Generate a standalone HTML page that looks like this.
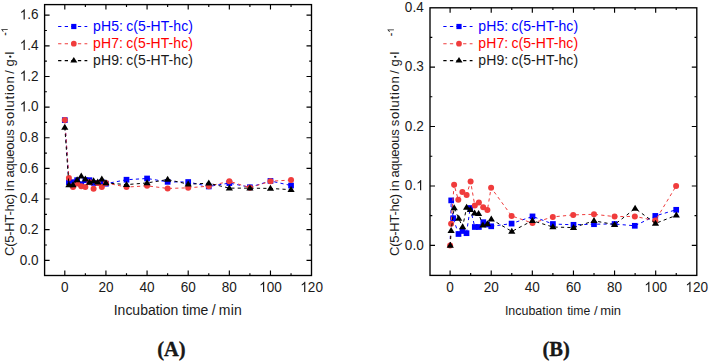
<!DOCTYPE html>
<html><head><meta charset="utf-8"><style>
html,body{margin:0;padding:0;background:#fff;}
body{width:709px;height:363px;overflow:hidden;}
svg{display:block;font-family:"Liberation Sans",sans-serif;fill:#1a1a1a;}

</style></head><body>
<svg width="709" height="363" viewBox="0 0 709 363">
<rect width="709" height="363" fill="#fff"/>
<path d="M64.8 120.12L68.91 182.17L73.03 182.17L77.14 180.18L81.25 184.16L85.37 180.18L89.48 180.18L93.59 182.93L97.71 182.93L101.82 182.17L105.93 183.7L126.5 179.72L147.07 178.49L167.63 181.86L188.2 182.01L208.77 186.46L229.34 183.09L249.9 187.22L270.47 180.94L291.04 185.54" fill="none" stroke="#0000ff" stroke-width="1.0" stroke-dasharray="3.2 3.2"/>
<rect x="61.95" y="117.27" width="5.7" height="5.7" fill="#0000ff"/><rect x="66.06" y="179.32" width="5.7" height="5.7" fill="#0000ff"/><rect x="70.18" y="179.32" width="5.7" height="5.7" fill="#0000ff"/><rect x="74.29" y="177.33" width="5.7" height="5.7" fill="#0000ff"/><rect x="78.4" y="181.31" width="5.7" height="5.7" fill="#0000ff"/><rect x="82.52" y="177.33" width="5.7" height="5.7" fill="#0000ff"/><rect x="86.63" y="177.33" width="5.7" height="5.7" fill="#0000ff"/><rect x="90.74" y="180.08" width="5.7" height="5.7" fill="#0000ff"/><rect x="94.86" y="180.08" width="5.7" height="5.7" fill="#0000ff"/><rect x="98.97" y="179.32" width="5.7" height="5.7" fill="#0000ff"/><rect x="103.08" y="180.85" width="5.7" height="5.7" fill="#0000ff"/><rect x="123.65" y="176.87" width="5.7" height="5.7" fill="#0000ff"/><rect x="144.22" y="175.64" width="5.7" height="5.7" fill="#0000ff"/><rect x="164.78" y="179.01" width="5.7" height="5.7" fill="#0000ff"/><rect x="185.35" y="179.16" width="5.7" height="5.7" fill="#0000ff"/><rect x="205.92" y="183.61" width="5.7" height="5.7" fill="#0000ff"/><rect x="226.49" y="180.24" width="5.7" height="5.7" fill="#0000ff"/><rect x="247.05" y="184.37" width="5.7" height="5.7" fill="#0000ff"/><rect x="267.62" y="178.09" width="5.7" height="5.7" fill="#0000ff"/><rect x="288.19" y="182.69" width="5.7" height="5.7" fill="#0000ff"/>
<path d="M64.8 120.12L68.91 178.03L73.03 187.07L77.14 183.39L81.25 186.3L85.37 187.07L89.48 182.17L93.59 188.76L97.71 182.93L101.82 187.07L105.93 182.93L126.5 187.07L147.07 185.84L167.63 188.45L188.2 187.84L208.77 186.15L229.34 181.25L249.9 187.68L270.47 181.25L291.04 180.02" fill="none" stroke="#f03c3c" stroke-width="1.0" stroke-dasharray="3.2 3.2"/>
<circle cx="64.8" cy="120.12" r="3" fill="#f03c3c"/><circle cx="68.91" cy="178.03" r="3" fill="#f03c3c"/><circle cx="73.03" cy="187.07" r="3" fill="#f03c3c"/><circle cx="77.14" cy="183.39" r="3" fill="#f03c3c"/><circle cx="81.25" cy="186.3" r="3" fill="#f03c3c"/><circle cx="85.37" cy="187.07" r="3" fill="#f03c3c"/><circle cx="89.48" cy="182.17" r="3" fill="#f03c3c"/><circle cx="93.59" cy="188.76" r="3" fill="#f03c3c"/><circle cx="97.71" cy="182.93" r="3" fill="#f03c3c"/><circle cx="101.82" cy="187.07" r="3" fill="#f03c3c"/><circle cx="105.93" cy="182.93" r="3" fill="#f03c3c"/><circle cx="126.5" cy="187.07" r="3" fill="#f03c3c"/><circle cx="147.07" cy="185.84" r="3" fill="#f03c3c"/><circle cx="167.63" cy="188.45" r="3" fill="#f03c3c"/><circle cx="188.2" cy="187.84" r="3" fill="#f03c3c"/><circle cx="208.77" cy="186.15" r="3" fill="#f03c3c"/><circle cx="229.34" cy="181.25" r="3" fill="#f03c3c"/><circle cx="249.9" cy="187.68" r="3" fill="#f03c3c"/><circle cx="270.47" cy="181.25" r="3" fill="#f03c3c"/><circle cx="291.04" cy="180.02" r="3" fill="#f03c3c"/>
<path d="M64.8 127.48L68.91 184.93L73.03 184.93L77.14 180.02L81.25 176.19L85.37 179.1L89.48 182.47L93.59 180.94L97.71 182.17L101.82 179.1L105.93 182.93L126.5 184.62L147.07 182.93L167.63 179.56L188.2 184.16L208.77 183.24L229.34 188.14L249.9 188.14L270.47 188.45L291.04 189.67" fill="none" stroke="#000000" stroke-width="1.0" stroke-dasharray="3.2 3.2"/>
<path d="M64.8 123.76L68.4 129.76L61.2 129.76Z" fill="#000000"/><path d="M68.91 181.21L72.51 187.21L65.31 187.21Z" fill="#000000"/><path d="M73.03 181.21L76.63 187.21L69.43 187.21Z" fill="#000000"/><path d="M77.14 176.3L80.74 182.3L73.54 182.3Z" fill="#000000"/><path d="M81.25 172.47L84.85 178.47L77.65 178.47Z" fill="#000000"/><path d="M85.37 175.38L88.97 181.38L81.77 181.38Z" fill="#000000"/><path d="M89.48 178.75L93.08 184.75L85.88 184.75Z" fill="#000000"/><path d="M93.59 177.22L97.19 183.22L89.99 183.22Z" fill="#000000"/><path d="M97.71 178.45L101.31 184.45L94.11 184.45Z" fill="#000000"/><path d="M101.82 175.38L105.42 181.38L98.22 181.38Z" fill="#000000"/><path d="M105.93 179.21L109.53 185.21L102.33 185.21Z" fill="#000000"/><path d="M126.5 180.9L130.1 186.9L122.9 186.9Z" fill="#000000"/><path d="M147.07 179.21L150.67 185.21L143.47 185.21Z" fill="#000000"/><path d="M167.63 175.84L171.23 181.84L164.03 181.84Z" fill="#000000"/><path d="M188.2 180.44L191.8 186.44L184.6 186.44Z" fill="#000000"/><path d="M208.77 179.52L212.37 185.52L205.17 185.52Z" fill="#000000"/><path d="M229.34 184.42L232.94 190.42L225.74 190.42Z" fill="#000000"/><path d="M249.9 184.42L253.5 190.42L246.3 190.42Z" fill="#000000"/><path d="M270.47 184.73L274.07 190.73L266.87 190.73Z" fill="#000000"/><path d="M291.04 185.95L294.64 191.95L287.44 191.95Z" fill="#000000"/>
<path d="M450.1 245.4L451.2 200.4L453.2 218.2L458.5 234L462.5 231L466.5 233.2L470.2 208L474.8 227L478.9 227L483.3 222.2L487.1 224.5L491.2 226.3L511.6 223.6L532.5 216.4L552.9 224L573.5 224.8L594 224.2L614.6 224L634.8 225.8L655.3 215.9L676.2 209.8" fill="none" stroke="#0000ff" stroke-width="1.0" stroke-dasharray="3.2 3.2"/>
<rect x="448.35" y="197.55" width="5.7" height="5.7" fill="#0000ff"/><rect x="450.35" y="215.35" width="5.7" height="5.7" fill="#0000ff"/><rect x="455.65" y="231.15" width="5.7" height="5.7" fill="#0000ff"/><rect x="459.65" y="228.15" width="5.7" height="5.7" fill="#0000ff"/><rect x="463.65" y="230.35" width="5.7" height="5.7" fill="#0000ff"/><rect x="467.35" y="205.15" width="5.7" height="5.7" fill="#0000ff"/><rect x="471.95" y="224.15" width="5.7" height="5.7" fill="#0000ff"/><rect x="476.05" y="224.15" width="5.7" height="5.7" fill="#0000ff"/><rect x="480.45" y="219.35" width="5.7" height="5.7" fill="#0000ff"/><rect x="484.25" y="221.65" width="5.7" height="5.7" fill="#0000ff"/><rect x="488.35" y="223.45" width="5.7" height="5.7" fill="#0000ff"/><rect x="508.75" y="220.75" width="5.7" height="5.7" fill="#0000ff"/><rect x="529.65" y="213.55" width="5.7" height="5.7" fill="#0000ff"/><rect x="550.05" y="221.15" width="5.7" height="5.7" fill="#0000ff"/><rect x="570.65" y="221.95" width="5.7" height="5.7" fill="#0000ff"/><rect x="591.15" y="221.35" width="5.7" height="5.7" fill="#0000ff"/><rect x="611.75" y="221.15" width="5.7" height="5.7" fill="#0000ff"/><rect x="631.95" y="222.95" width="5.7" height="5.7" fill="#0000ff"/><rect x="652.45" y="213.05" width="5.7" height="5.7" fill="#0000ff"/><rect x="673.35" y="206.95" width="5.7" height="5.7" fill="#0000ff"/>
<path d="M450.1 245.4L451.1 223.7L454.1 184.8L458.3 199.8L462.4 192L466.6 194.9L470.6 181.6L474.8 205.5L478.9 202.4L483.2 207.2L487.4 210L491.1 187.7L511.6 215.9L532.5 223.1L552.8 216.9L573.2 214.9L594 214.3L614.6 216.6L634.8 216.4L655.3 220.6L676.1 186.1" fill="none" stroke="#f03c3c" stroke-width="1.0" stroke-dasharray="3.2 3.2"/>
<circle cx="450.1" cy="245.4" r="3" fill="#f03c3c"/><circle cx="451.1" cy="223.7" r="3" fill="#f03c3c"/><circle cx="454.1" cy="184.8" r="3" fill="#f03c3c"/><circle cx="458.3" cy="199.8" r="3" fill="#f03c3c"/><circle cx="462.4" cy="192" r="3" fill="#f03c3c"/><circle cx="466.6" cy="194.9" r="3" fill="#f03c3c"/><circle cx="470.6" cy="181.6" r="3" fill="#f03c3c"/><circle cx="474.8" cy="205.5" r="3" fill="#f03c3c"/><circle cx="478.9" cy="202.4" r="3" fill="#f03c3c"/><circle cx="483.2" cy="207.2" r="3" fill="#f03c3c"/><circle cx="487.4" cy="210" r="3" fill="#f03c3c"/><circle cx="491.1" cy="187.7" r="3" fill="#f03c3c"/><circle cx="511.6" cy="215.9" r="3" fill="#f03c3c"/><circle cx="532.5" cy="223.1" r="3" fill="#f03c3c"/><circle cx="552.8" cy="216.9" r="3" fill="#f03c3c"/><circle cx="573.2" cy="214.9" r="3" fill="#f03c3c"/><circle cx="594" cy="214.3" r="3" fill="#f03c3c"/><circle cx="614.6" cy="216.6" r="3" fill="#f03c3c"/><circle cx="634.8" cy="216.4" r="3" fill="#f03c3c"/><circle cx="655.3" cy="220.6" r="3" fill="#f03c3c"/><circle cx="676.1" cy="186.1" r="3" fill="#f03c3c"/>
<path d="M450.3 245.5L451.1 230.8L454.2 207.9L458.7 218.5L462.6 226.9L466.6 207.5L470.4 209.6L474.6 213.3L478.6 213.6L482.9 225.2L487.4 224L491.3 219.3L511.8 231.4L532.4 220.7L552.9 227L573.5 227.6L594 220.8L614.6 224.6L635.1 208.5L655.5 223.4L676.3 215.3" fill="none" stroke="#000000" stroke-width="1.0" stroke-dasharray="3.2 3.2"/>
<path d="M450.3 241.78L453.9 247.78L446.7 247.78Z" fill="#000000"/><path d="M451.1 227.08L454.7 233.08L447.5 233.08Z" fill="#000000"/><path d="M454.2 204.18L457.8 210.18L450.6 210.18Z" fill="#000000"/><path d="M458.7 214.78L462.3 220.78L455.1 220.78Z" fill="#000000"/><path d="M462.6 223.18L466.2 229.18L459 229.18Z" fill="#000000"/><path d="M466.6 203.78L470.2 209.78L463 209.78Z" fill="#000000"/><path d="M470.4 205.88L474 211.88L466.8 211.88Z" fill="#000000"/><path d="M474.6 209.58L478.2 215.58L471 215.58Z" fill="#000000"/><path d="M478.6 209.88L482.2 215.88L475 215.88Z" fill="#000000"/><path d="M482.9 221.48L486.5 227.48L479.3 227.48Z" fill="#000000"/><path d="M487.4 220.28L491 226.28L483.8 226.28Z" fill="#000000"/><path d="M491.3 215.58L494.9 221.58L487.7 221.58Z" fill="#000000"/><path d="M511.8 227.68L515.4 233.68L508.2 233.68Z" fill="#000000"/><path d="M532.4 216.98L536 222.98L528.8 222.98Z" fill="#000000"/><path d="M552.9 223.28L556.5 229.28L549.3 229.28Z" fill="#000000"/><path d="M573.5 223.88L577.1 229.88L569.9 229.88Z" fill="#000000"/><path d="M594 217.08L597.6 223.08L590.4 223.08Z" fill="#000000"/><path d="M614.6 220.88L618.2 226.88L611 226.88Z" fill="#000000"/><path d="M635.1 204.78L638.7 210.78L631.5 210.78Z" fill="#000000"/><path d="M655.5 219.68L659.1 225.68L651.9 225.68Z" fill="#000000"/><path d="M676.3 211.58L679.9 217.58L672.7 217.58Z" fill="#000000"/>
<rect x="44.6" y="4.6" width="266.9" height="270.9" fill="none" stroke="#000" stroke-width="1.35"/>
<path d="M64.8 275.5v-5.0M64.8 4.6v5.0M105.93 275.5v-5.0M105.93 4.6v5.0M147.07 275.5v-5.0M147.07 4.6v5.0M188.2 275.5v-5.0M188.2 4.6v5.0M229.34 275.5v-5.0M229.34 4.6v5.0M270.47 275.5v-5.0M270.47 4.6v5.0M85.37 275.5v-2.3M85.37 4.6v2.3M126.5 275.5v-2.3M126.5 4.6v2.3M167.63 275.5v-2.3M167.63 4.6v2.3M208.77 275.5v-2.3M208.77 4.6v2.3M249.9 275.5v-2.3M249.9 4.6v2.3M291.04 275.5v-2.3M291.04 4.6v2.3M44.6 260.3h5.0M311.5 260.3h-5.0M44.6 229.66h5.0M311.5 229.66h-5.0M44.6 199.02h5.0M311.5 199.02h-5.0M44.6 168.38h5.0M311.5 168.38h-5.0M44.6 137.74h5.0M311.5 137.74h-5.0M44.6 107.1h5.0M311.5 107.1h-5.0M44.6 76.46h5.0M311.5 76.46h-5.0M44.6 45.82h5.0M311.5 45.82h-5.0M44.6 15.18h5.0M311.5 15.18h-5.0M44.6 244.98h2.3M311.5 244.98h-2.3M44.6 214.34h2.3M311.5 214.34h-2.3M44.6 183.7h2.3M311.5 183.7h-2.3M44.6 153.06h2.3M311.5 153.06h-2.3M44.6 122.42h2.3M311.5 122.42h-2.3M44.6 91.78h2.3M311.5 91.78h-2.3M44.6 61.14h2.3M311.5 61.14h-2.3M44.6 30.5h2.3M311.5 30.5h-2.3" stroke="#000" stroke-width="1.15" fill="none"/>
<rect x="430" y="7.8" width="266.8" height="267.6" fill="none" stroke="#000" stroke-width="1.35"/>
<path d="M450.1 275.4v-5.0M450.1 7.8v5.0M491.22 275.4v-5.0M491.22 7.8v5.0M532.33 275.4v-5.0M532.33 7.8v5.0M573.45 275.4v-5.0M573.45 7.8v5.0M614.56 275.4v-5.0M614.56 7.8v5.0M655.68 275.4v-5.0M655.68 7.8v5.0M470.66 275.4v-2.3M470.66 7.8v2.3M511.77 275.4v-2.3M511.77 7.8v2.3M552.89 275.4v-2.3M552.89 7.8v2.3M594.01 275.4v-2.3M594.01 7.8v2.3M635.12 275.4v-2.3M635.12 7.8v2.3M676.24 275.4v-2.3M676.24 7.8v2.3M430 245.4h5.0M696.8 245.4h-5.0M430 185.95h5.0M696.8 185.95h-5.0M430 126.5h5.0M696.8 126.5h-5.0M430 67.05h5.0M696.8 67.05h-5.0M430 215.68h2.3M696.8 215.68h-2.3M430 156.22h2.3M696.8 156.22h-2.3M430 96.78h2.3M696.8 96.78h-2.3M430 37.32h2.3M696.8 37.32h-2.3" stroke="#000" stroke-width="1.15" fill="none"/>
<g transform="translate(38.6 264.6) scale(0.95 1)"><text x="-19.88" y="0" font-size="14.3">0.0</text></g>
<g transform="translate(38.6 233.96) scale(0.95 1)"><text x="-19.88" y="0" font-size="14.3">0.2</text></g>
<g transform="translate(38.6 203.32) scale(0.95 1)"><text x="-19.88" y="0" font-size="14.3">0.4</text></g>
<g transform="translate(38.6 172.68) scale(0.95 1)"><text x="-19.88" y="0" font-size="14.3">0.6</text></g>
<g transform="translate(38.6 142.04) scale(0.95 1)"><text x="-19.88" y="0" font-size="14.3">0.8</text></g>
<g transform="translate(38.6 111.4) scale(0.95 1)"><text x="-19.88" y="0" font-size="14.3"> .0</text><path d="M763 0H583V1147Q518 1085 412 1023Q306 961 222 930V1104Q373 1175 486 1276Q599 1377 646 1472H763Z" transform="translate(-19.88 0) scale(0.00698 -0.00698)"/></g>
<g transform="translate(38.6 80.76) scale(0.95 1)"><text x="-19.88" y="0" font-size="14.3"> .2</text><path d="M763 0H583V1147Q518 1085 412 1023Q306 961 222 930V1104Q373 1175 486 1276Q599 1377 646 1472H763Z" transform="translate(-19.88 0) scale(0.00698 -0.00698)"/></g>
<g transform="translate(38.6 50.12) scale(0.95 1)"><text x="-19.88" y="0" font-size="14.3"> .4</text><path d="M763 0H583V1147Q518 1085 412 1023Q306 961 222 930V1104Q373 1175 486 1276Q599 1377 646 1472H763Z" transform="translate(-19.88 0) scale(0.00698 -0.00698)"/></g>
<g transform="translate(38.6 19.48) scale(0.95 1)"><text x="-19.88" y="0" font-size="14.3"> .6</text><path d="M763 0H583V1147Q518 1085 412 1023Q306 961 222 930V1104Q373 1175 486 1276Q599 1377 646 1472H763Z" transform="translate(-19.88 0) scale(0.00698 -0.00698)"/></g>
<g transform="translate(423.7 249.7) scale(0.95 1)"><text x="-19.88" y="0" font-size="14.3">0.0</text></g>
<g transform="translate(423.7 190.25) scale(0.95 1)"><text x="-19.88" y="0" font-size="14.3">0. </text><path d="M763 0H583V1147Q518 1085 412 1023Q306 961 222 930V1104Q373 1175 486 1276Q599 1377 646 1472H763Z" transform="translate(-7.95 0) scale(0.00698 -0.00698)"/></g>
<g transform="translate(423.7 130.8) scale(0.95 1)"><text x="-19.88" y="0" font-size="14.3">0.2</text></g>
<g transform="translate(423.7 71.35) scale(0.95 1)"><text x="-19.88" y="0" font-size="14.3">0.3</text></g>
<g transform="translate(423.7 11.9) scale(0.95 1)"><text x="-19.88" y="0" font-size="14.3">0.4</text></g>
<g transform="translate(64.8 292) scale(0.95 1)"><text x="-3.98" y="0" font-size="14.3">0</text></g>
<g transform="translate(105.93 292) scale(0.95 1)"><text x="-7.95" y="0" font-size="14.3">20</text></g>
<g transform="translate(147.07 292) scale(0.95 1)"><text x="-7.95" y="0" font-size="14.3">40</text></g>
<g transform="translate(188.2 292) scale(0.95 1)"><text x="-7.95" y="0" font-size="14.3">60</text></g>
<g transform="translate(229.34 292) scale(0.95 1)"><text x="-7.95" y="0" font-size="14.3">80</text></g>
<g transform="translate(270.47 292) scale(0.95 1)"><text x="-11.93" y="0" font-size="14.3"> 00</text><path d="M763 0H583V1147Q518 1085 412 1023Q306 961 222 930V1104Q373 1175 486 1276Q599 1377 646 1472H763Z" transform="translate(-11.93 0) scale(0.00698 -0.00698)"/></g>
<g transform="translate(311.6 292) scale(0.95 1)"><text x="-11.93" y="0" font-size="14.3"> 20</text><path d="M763 0H583V1147Q518 1085 412 1023Q306 961 222 930V1104Q373 1175 486 1276Q599 1377 646 1472H763Z" transform="translate(-11.93 0) scale(0.00698 -0.00698)"/></g>
<g transform="translate(450.1 292) scale(0.95 1)"><text x="-3.98" y="0" font-size="14.3">0</text></g>
<g transform="translate(491.22 292) scale(0.95 1)"><text x="-7.95" y="0" font-size="14.3">20</text></g>
<g transform="translate(532.33 292) scale(0.95 1)"><text x="-7.95" y="0" font-size="14.3">40</text></g>
<g transform="translate(573.45 292) scale(0.95 1)"><text x="-7.95" y="0" font-size="14.3">60</text></g>
<g transform="translate(614.56 292) scale(0.95 1)"><text x="-7.95" y="0" font-size="14.3">80</text></g>
<g transform="translate(655.68 292) scale(0.95 1)"><text x="-11.93" y="0" font-size="14.3"> 00</text><path d="M763 0H583V1147Q518 1085 412 1023Q306 961 222 930V1104Q373 1175 486 1276Q599 1377 646 1472H763Z" transform="translate(-11.93 0) scale(0.00698 -0.00698)"/></g>
<g transform="translate(696.8 292) scale(0.95 1)"><text x="-11.93" y="0" font-size="14.3"> 20</text><path d="M763 0H583V1147Q518 1085 412 1023Q306 961 222 930V1104Q373 1175 486 1276Q599 1377 646 1472H763Z" transform="translate(-11.93 0) scale(0.00698 -0.00698)"/></g>
<text x="113.71" y="314.9" font-size="14" textLength="64.6" lengthAdjust="spacing">Incubation</text>
<text x="182.29" y="314.9" font-size="14" textLength="25.93" lengthAdjust="spacing">time</text>
<text x="211.8" y="314.9" font-size="14">/</text>
<text x="218.77" y="314.9" font-size="14" textLength="23.04" lengthAdjust="spacing">min</text>
<text x="504.9" y="315" font-size="13" textLength="57.44" lengthAdjust="spacingAndGlyphs">Incubation</text>
<text x="567.2" y="315" font-size="13" textLength="22.97" lengthAdjust="spacingAndGlyphs">time</text>
<text x="594" y="315" font-size="13">/</text>
<text x="600.14" y="315" font-size="13" textLength="20.91" lengthAdjust="spacingAndGlyphs">min</text>
<text transform="translate(13.8 255.96) rotate(-90)" font-size="13" textLength="62.17" lengthAdjust="spacing">C(5-HT-hc)</text>
<text transform="translate(13.8 191.07) rotate(-90)" font-size="13" textLength="10.71" lengthAdjust="spacing">in</text>
<text transform="translate(13.8 177.55) rotate(-90)" font-size="13" textLength="48.32" lengthAdjust="spacing">aqueous</text>
<text transform="translate(13.8 126.26) rotate(-90)" font-size="13" textLength="50.11" lengthAdjust="spacing">solution</text>
<text transform="translate(13.8 73.8) rotate(-90)" font-size="13">/</text>
<text transform="translate(13.8 66.55) rotate(-90)" font-size="13" textLength="14.92" lengthAdjust="spacing">g·l</text>
<text transform="translate(398.6 255.96) rotate(-90)" font-size="13" textLength="62.17" lengthAdjust="spacing">C(5-HT-hc)</text>
<text transform="translate(398.6 191.07) rotate(-90)" font-size="13" textLength="10.71" lengthAdjust="spacing">in</text>
<text transform="translate(398.6 177.55) rotate(-90)" font-size="13" textLength="48.32" lengthAdjust="spacing">aqueous</text>
<text transform="translate(398.6 126.26) rotate(-90)" font-size="13" textLength="50.11" lengthAdjust="spacing">solution</text>
<text transform="translate(398.6 73.8) rotate(-90)" font-size="13">/</text>
<text transform="translate(398.6 66.55) rotate(-90)" font-size="13" textLength="14.92" lengthAdjust="spacing">g·l</text>
<circle cx="10.1" cy="56.6" r="1.05"/><circle cx="395.1" cy="56.7" r="1.05"/>
<g transform="translate(7.7 35.6) rotate(-90)"><g transform="translate(0 0)"><text x="0" y="0" font-size="9" stroke="#1a1a1a" stroke-width="0.35">- </text><path d="M763 0H583V1147Q518 1085 412 1023Q306 961 222 930V1104Q373 1175 486 1276Q599 1377 646 1472H763Z" transform="translate(3 0) scale(0.00439 -0.00439)"/></g></g>
<g transform="translate(393.9 35.9) rotate(-90)"><g transform="translate(0 0)"><text x="0" y="0" font-size="9" stroke="#1a1a1a" stroke-width="0.35">- </text><path d="M763 0H583V1147Q518 1085 412 1023Q306 961 222 930V1104Q373 1175 486 1276Q599 1377 646 1472H763Z" transform="translate(3 0) scale(0.00439 -0.00439)"/></g></g>
<text x="171.4" y="355.6" text-anchor="middle" font-family="Liberation Serif" font-weight="bold" font-size="20.5" stroke="#000" stroke-width="0.3">(A)</text>
<text x="556.2" y="355.6" text-anchor="middle" font-family="Liberation Serif" font-weight="bold" font-size="20.5" stroke="#000" stroke-width="0.3">(B)</text>
<path d="M58.1 26.5h29.2" stroke="#0000ff" stroke-width="1.1" stroke-dasharray="3.3 3.3" fill="none"/>
<rect x="71.2" y="23.9" width="5.2" height="5.2" fill="#0000ff"/>
<text x="93.1" y="30.7" font-size="14" textLength="29.88" lengthAdjust="spacing" fill="#0000ff">pH5:</text>
<text x="126.31" y="30.7" font-size="14" textLength="66.56" lengthAdjust="spacing" fill="#0000ff">c(5-HT-hc)</text>
<path d="M58.1 43.7h29.2" stroke="#f03c3c" stroke-width="1.1" stroke-dasharray="3.3 3.3" fill="none"/>
<circle cx="73.8" cy="43.7" r="2.85" fill="#f03c3c"/>
<text x="93.1" y="47.9" font-size="14" textLength="29.88" lengthAdjust="spacing" fill="#ff0000">pH7:</text>
<text x="126.31" y="47.9" font-size="14" textLength="66.56" lengthAdjust="spacing" fill="#ff0000">c(5-HT-hc)</text>
<path d="M58.1 60.6h29.2" stroke="#000000" stroke-width="1.1" stroke-dasharray="3.3 3.3" fill="none"/>
<path d="M73.8 57L77.3 62.6L70.3 62.6Z" fill="#000000"/>
<text x="93.1" y="64.8" font-size="14" textLength="29.88" lengthAdjust="spacing" fill="#1a1a1a">pH9:</text>
<text x="126.31" y="64.8" font-size="14" textLength="66.56" lengthAdjust="spacing" fill="#1a1a1a">c(5-HT-hc)</text>
<path d="M443.3 26.5h29.2" stroke="#0000ff" stroke-width="1.1" stroke-dasharray="3.3 3.3" fill="none"/>
<rect x="456.4" y="23.9" width="5.2" height="5.2" fill="#0000ff"/>
<text x="478.3" y="30.7" font-size="14" textLength="29.88" lengthAdjust="spacing" fill="#0000ff">pH5:</text>
<text x="511.51" y="30.7" font-size="14" textLength="66.56" lengthAdjust="spacing" fill="#0000ff">c(5-HT-hc)</text>
<path d="M443.3 43.7h29.2" stroke="#f03c3c" stroke-width="1.1" stroke-dasharray="3.3 3.3" fill="none"/>
<circle cx="459" cy="43.7" r="2.85" fill="#f03c3c"/>
<text x="478.3" y="47.9" font-size="14" textLength="29.88" lengthAdjust="spacing" fill="#ff0000">pH7:</text>
<text x="511.51" y="47.9" font-size="14" textLength="66.56" lengthAdjust="spacing" fill="#ff0000">c(5-HT-hc)</text>
<path d="M443.3 60.6h29.2" stroke="#000000" stroke-width="1.1" stroke-dasharray="3.3 3.3" fill="none"/>
<path d="M459 57L462.5 62.6L455.5 62.6Z" fill="#000000"/>
<text x="478.3" y="64.8" font-size="14" textLength="29.88" lengthAdjust="spacing" fill="#1a1a1a">pH9:</text>
<text x="511.51" y="64.8" font-size="14" textLength="66.56" lengthAdjust="spacing" fill="#1a1a1a">c(5-HT-hc)</text>
</svg>
</body></html>
